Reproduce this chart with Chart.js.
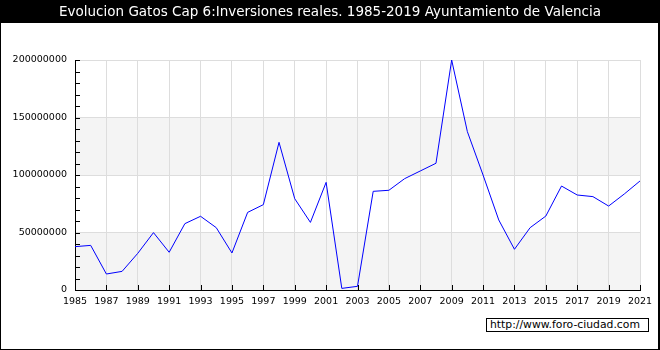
<!DOCTYPE html>
<html>
<head>
<meta charset="utf-8">
<script src="https://cdn.jsdelivr.net/npm/chart.js@4.4.0/dist/chart.umd.min.js"></script>
<style>
  html, body { margin: 0; padding: 0; background: #000; }
  #marco { position: relative; width: 660px; height: 350px; overflow: hidden; }
  #grafico { position: absolute; left: 0; top: 0; }
  #titulo {
    position: absolute; left: 0; top: 3px; width: 660px; text-align: center;
    color: #fff; font: 13.5px "DejaVu Sans", sans-serif; white-space: nowrap;
  }
  #marca {
    position: absolute; left: 486px; top: 318px; width: 158px; height: 12px;
    border: 1px solid #000; background: #fff; color: #000;
    font: 10.8px "DejaVu Sans", sans-serif; line-height: 12px; padding-left: 3px;
    box-sizing: content-box; white-space: nowrap;
  }
</style>
</head>
<body>
<div id="marco">
  <canvas id="grafico" width="660" height="350"></canvas>
  <div id="titulo">Evolucion Gatos Cap 6:Inversiones reales. 1985-2019 Ayuntamiento de Valencia</div>
  <div id="marca">http://www.foro-ciudad.com</div>
</div>
<script>
// Datos
const anios = [1985, 1986, 1987, 1988, 1989, 1990, 1991, 1992, 1993, 1994, 1995, 1996, 1997,
  1998, 1999, 2000, 2001, 2002, 2003, 2004, 2005, 2006, 2007, 2008, 2009, 2010, 2011, 2012,
  2013, 2014, 2015, 2016, 2017, 2018, 2019, 2020, 2021];
const inversiones = [37700000, 38800000, 13900000, 16200000, 31900000, 49900000, 32800000,
  57700000, 64100000, 54200000, 32200000, 67500000, 74200000, 128400000, 79400000, 58800000,
  93600000, 1400000, 3200000, 85800000, 86700000, 96800000, 103500000, 110200000, 200000000,
  137700000, 100000000, 60900000, 35400000, 54200000, 64300000, 90400000, 82600000, 81200000,
  73000000, 83500000, 94800000];
// Bandas grises del fondo (desde, hasta)
const bandas = [[0, 50000000], [100000000, 150000000]];
const ejeYMax = 200000000;
const pasoY = 50000000;
const pasoYMenor = 10000000;

Chart.defaults.font.family = '"DejaVu Sans", sans-serif';
Chart.defaults.color = '#000';

// Plugin para el fondo, las bandas y las marcas interiores de los ejes
const fondo = {
  id: 'fondo',
  beforeDraw(chart) {
    const ctx = chart.ctx;
    const area = chart.chartArea;
    const y = chart.scales.y;
    ctx.save();
    ctx.fillStyle = '#000';
    ctx.fillRect(0, 0, chart.width, chart.height);
    ctx.fillStyle = '#fff';
    ctx.fillRect(1, 23, 657, 326);
    ctx.fillStyle = '#f4f4f4';
    bandas.forEach(function (b) {
      const y1 = y.getPixelForValue(b[1]);
      const y0 = y.getPixelForValue(b[0]);
      ctx.fillRect(area.left, y1, area.right - area.left, y0 - y1);
    });
    ctx.restore();
  },
  afterDraw(chart) {
    const ctx = chart.ctx;
    const area = chart.chartArea;
    const x = chart.scales.x;
    const y = chart.scales.y;
    ctx.save();
    ctx.strokeStyle = '#000';
    ctx.lineWidth = 1;
    ctx.beginPath();
    for (let v = 0; v <= ejeYMax; v += pasoYMenor) {
      const py = Math.round(y.getPixelForValue(v)) + 0.5;
      ctx.moveTo(area.left, py);
      ctx.lineTo(area.left + 5, py);
    }
    x.ticks.forEach(function (t) {
      const px = Math.round(x.getPixelForValue(t.value)) + 0.5;
      ctx.moveTo(px, area.bottom);
      ctx.lineTo(px, area.bottom - 5);
    });
    ctx.stroke();
    ctx.restore();
  }
};

new Chart(document.getElementById('grafico'), {
  type: 'line',
  data: {
    labels: anios,
    datasets: [{
      data: anios.map(function (a, i) { return { x: a, y: inversiones[i] }; }),
      borderColor: '#0000ff',
      borderWidth: 1,
      pointRadius: 0,
      tension: 0,
      fill: false
    }]
  },
  options: {
    responsive: false,
    animation: false,
    devicePixelRatio: 1,
    layout: { padding: { left: 0, top: 60, right: 20, bottom: 0 } },
    plugins: {
      legend: { display: false },
      title: { display: false },
      tooltip: { enabled: false }
    },
    scales: {
      x: {
        type: 'linear',
        min: anios[0],
        max: anios[anios.length - 1],
        afterFit(scale) { scale.height = 60; },
        grid: { color: '#dddddd', drawTicks: false },
        border: { color: '#000' },
        ticks: {
          stepSize: 2,
          padding: 6,
          maxRotation: 0,
          autoSkip: false,
          font: { size: 9.5 },
          callback: function (v) { return String(v); }
        }
      },
      y: {
        min: 0,
        max: ejeYMax,
        afterFit(scale) { scale.width = 75; },
        grid: { color: '#dddddd', drawTicks: false },
        border: { color: '#000' },
        ticks: {
          stepSize: pasoY,
          padding: 8,
          font: { size: 9.5 },
          callback: function (v) { return String(v); }
        }
      }
    }
  },
  plugins: [fondo]
});
</script>
</body>
</html>
